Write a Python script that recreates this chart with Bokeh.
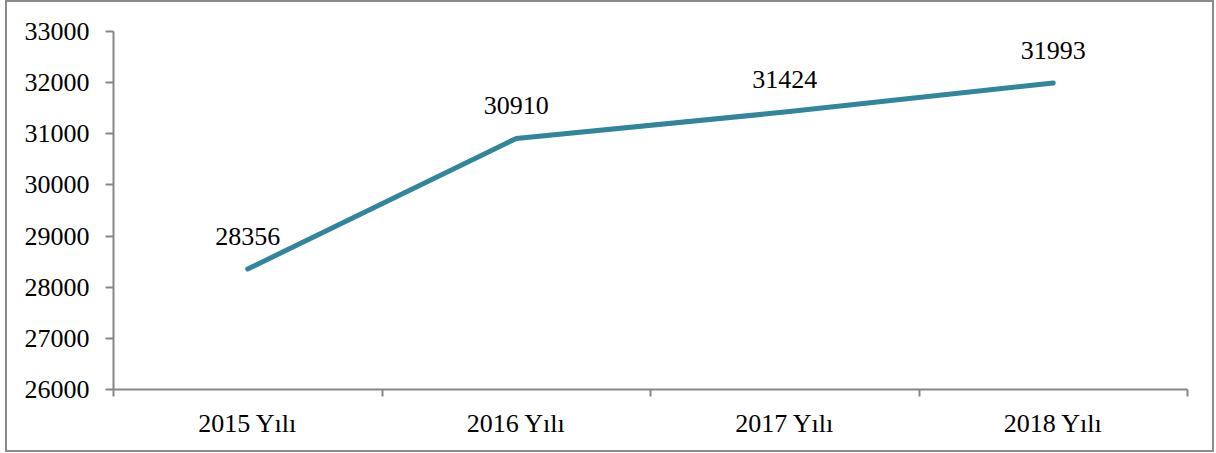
from bokeh.plotting import figure
from bokeh.models import FixedTicker, Range1d, ColumnDataSource
from bokeh.core.properties import value
from bokeh.embed import file_html
from bokeh.resources import INLINE

categories = ["2015 Yılı", "2016 Yılı", "2017 Yılı", "2018 Yılı"]
values = [28356, 30910, 31424, 31993]
y_ticks = [26000, 27000, 28000, 29000, 30000, 31000, 32000, 33000]

xs = [i + 0.5 for i in range(len(categories))]
src = ColumnDataSource(dict(x=xs, y=values, lab=[str(v) for v in values]))

FONT = "Liberation Serif"
GRAY = "#868686"
LINE = "#31859C"

p = figure(width=1205, height=448, output_backend="svg", toolbar_location=None,
           x_range=Range1d(0, len(categories)), y_range=Range1d(26000, 33000),
           min_border_left=106, min_border_right=25, min_border_top=29, min_border_bottom=61)
p.outline_line_color = None
p.xgrid.visible = False
p.ygrid.visible = False
p.styles = {"margin-left": "7px", "margin-top": "2px", "outline": "2px solid #8c8c8c"}

p.line("x", "y", source=src, line_color=LINE, line_width=5, line_cap="round", line_join="round")
p.text("x", "y", text="lab", source=src, y_offset=-33, text_align="center",
       text_baseline="middle", text_font=value(FONT), text_font_size="26px", text_color="black")

xa = p.xaxis[0]
xa.ticker = FixedTicker(ticks=xs, minor_ticks=list(range(len(categories) + 1)))
xa.major_label_overrides = {x: c for x, c in zip(xs, categories)}
xa.major_tick_line_color = None
xa.major_tick_out = 0
xa.major_tick_in = 0
xa.minor_tick_line_color = GRAY
xa.minor_tick_line_width = 2
xa.minor_tick_out = 7
xa.minor_tick_in = 0
xa.axis_line_color = GRAY
xa.axis_line_width = 2
xa.major_label_text_font = FONT
xa.major_label_text_font_size = "26px"
xa.major_label_text_color = "black"
xa.major_label_standoff = 12

ya = p.yaxis[0]
ya.ticker = FixedTicker(ticks=y_ticks, minor_ticks=[])
ya.major_tick_line_color = GRAY
ya.major_tick_line_width = 2
ya.major_tick_out = 8
ya.major_tick_in = 0
ya.minor_tick_line_color = None
ya.axis_line_color = GRAY
ya.axis_line_width = 2
ya.major_label_text_font = FONT
ya.major_label_text_font_size = "26px"
ya.major_label_text_color = "black"
ya.major_label_standoff = 16

open("out.html", "w").write(file_html(p, INLINE))
